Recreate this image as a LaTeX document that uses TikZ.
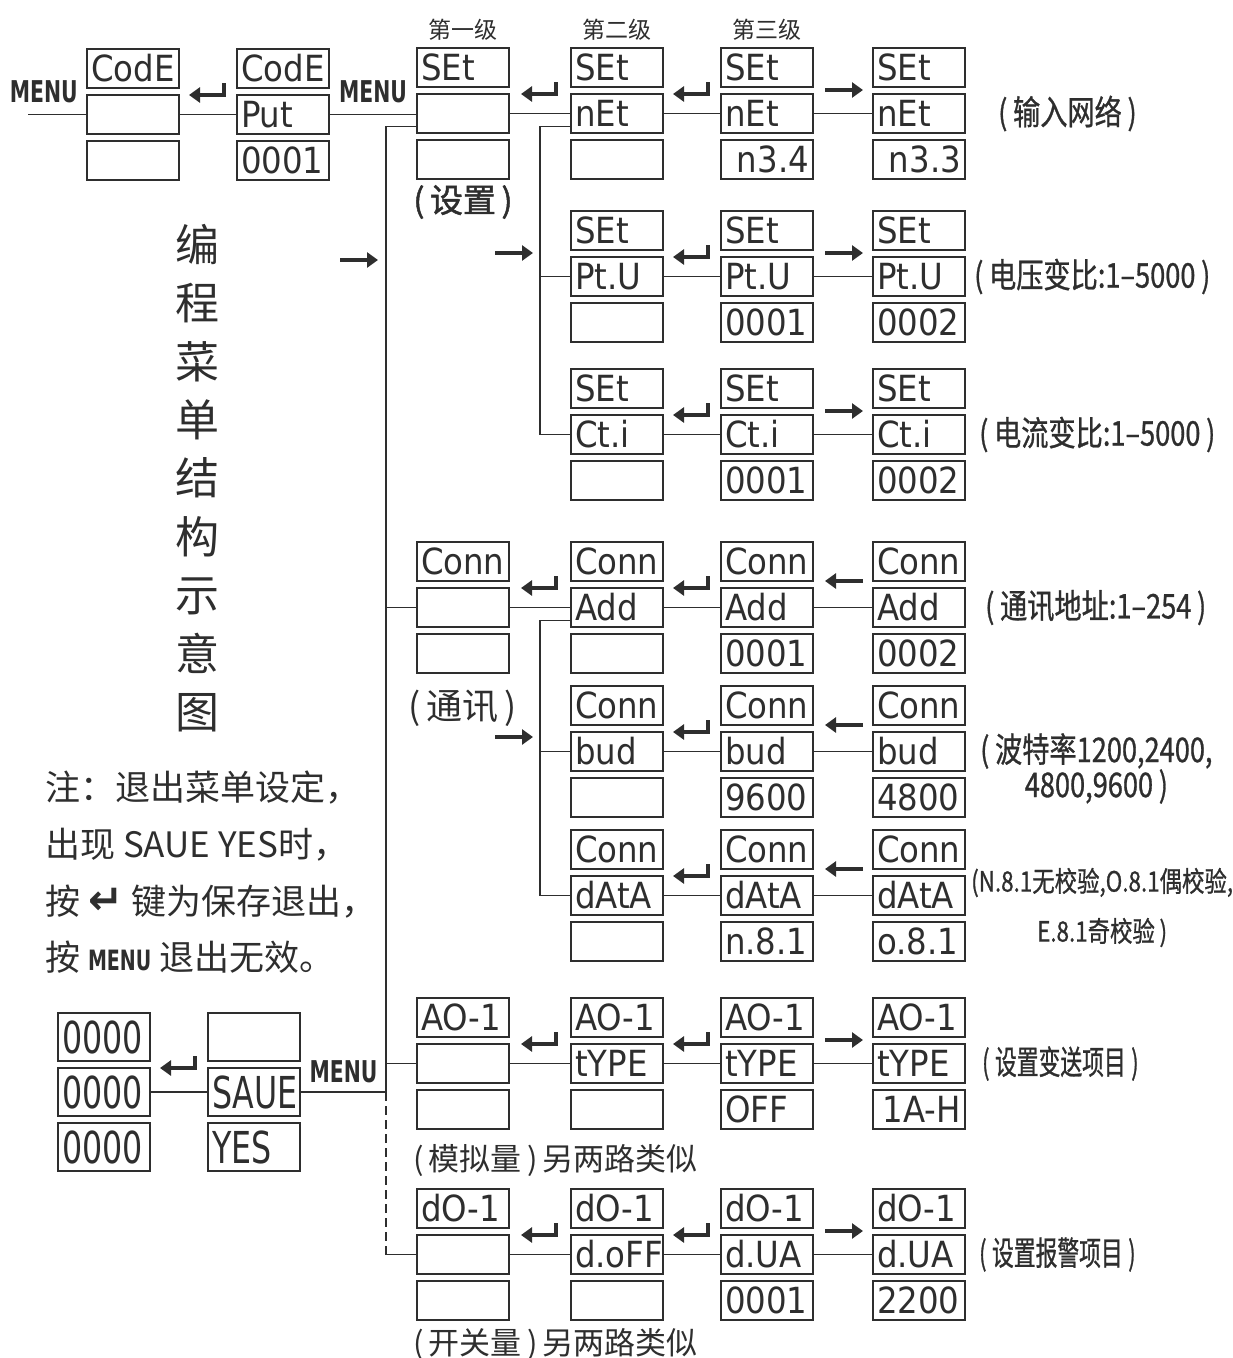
\documentclass[tikz,border=0pt]{standalone}
\usepackage{fontspec}
\usepackage{xcolor}
\usepackage{tikz}
\usetikzlibrary{arrows.meta, positioning, calc}
\newfontfamily\cjk{Noto Sans CJK SC}[AutoFakeBold=1.5]
\newfontfamily\cjknarrow{Noto Sans CJK SC}[FakeStretch=0.8, FakeBold=0.8]
\newfontfamily\cjkcond{Noto Sans CJK SC}[FakeStretch=0.66, FakeBold=0.8]
\newfontfamily\segfont{DejaVu Sans}[FakeStretch=0.9]
\newfontfamily\segtallfont{DejaVu Sans}[FakeStretch=0.72]
\newfontfamily\menufont{DejaVu Sans Bold}[FakeStretch=0.68]
\newfontfamily\symfont{DejaVu Sans Bold}
\definecolor{ink}{HTML}{2E2E2E}

\begin{document}
\begin{tikzpicture}[
  x=1pt, y=-1pt,
  font=\cjk,
  seg/.style={draw=ink, line width=2pt, minimum width=92pt, minimum height=39pt,
              inner xsep=4pt, inner ysep=0pt, text width=84pt, align=left,
              text height=26pt, text depth=0pt, text=ink,
              font=\segfont\fontsize{36}{36}\selectfont},
  segtall/.style={seg, minimum height=48pt, text height=32pt,
                  font=\segtallfont\fontsize{44}{44}\selectfont},
  link/.style={draw=ink, line width=1.8pt},
  ret/.style={draw=ink, line width=4.5pt, -{Triangle[length=11pt,width=15pt]}},
  menu/.style={text=ink, inner sep=0pt, font=\menufont\fontsize{30}{30}\selectfont},
  lvl/.style={text=ink, inner sep=0pt, font=\cjk\fontsize{23}{24}\selectfont},
  lbl/.style={text=ink, inner sep=0pt, align=center, font=\cjknarrow\fontsize{34}{35}\selectfont},
  grp/.style={text=ink, inner sep=0pt, font=\cjk\fontsize{31}{32}\selectfont},
]
\useasboundingbox (0,0) rectangle (1233,1358);

% Displays: three boxes per meter
\foreach \nm/\x/\y/\f/\rA/\rB/\rC in {
  codeA/86/48/seg/CodE/{}/{},
  codeB/236/48/seg/CodE/Put/0001,
  set/416/47/seg/SEt/{}/{},
  net2/570/47/seg/SEt/nEt/{},
  net3/720/47/seg/SEt/nEt/\hspace*{\fill}n3.4,
  net4/872/47/seg/SEt/nEt/\hspace*{\fill}n3.3,
  pt2/570/210/seg/SEt/Pt.U/{},
  pt3/720/210/seg/SEt/Pt.U/0001,
  pt4/872/210/seg/SEt/Pt.U/0002,
  ct2/570/368/seg/SEt/Ct.i/{},
  ct3/720/368/seg/SEt/Ct.i/0001,
  ct4/872/368/seg/SEt/Ct.i/0002,
  comm/416/541/seg/Conn/{}/{},
  add2/570/541/seg/Conn/Add/{},
  add3/720/541/seg/Conn/Add/0001,
  add4/872/541/seg/Conn/Add/0002,
  bud2/570/685/seg/Conn/bud/{},
  bud3/720/685/seg/Conn/bud/9600,
  bud4/872/685/seg/Conn/bud/4800,
  dat2/570/829/seg/Conn/dAtA/{},
  dat3/720/829/seg/Conn/dAtA/n.8.1,
  dat4/872/829/seg/Conn/dAtA/o.8.1,
  ao/416/997/seg/AO-1/{}/{},
  ao2/570/997/seg/AO-1/tYPE/{},
  ao3/720/997/seg/AO-1/tYPE/OFF,
  ao4/872/997/seg/AO-1/tYPE/\hspace*{\fill}1A-H,
  do/416/1188/seg/dO-1/{}/{},
  do2/570/1188/seg/dO-1/d.oFF/{},
  do3/720/1188/seg/dO-1/d.UA/0001,
  do4/872/1188/seg/dO-1/d.UA/2200,
  zero/57/1012/segtall/0000/0000/0000,
  save/207/1012/segtall/{}/SAUE/YES} {
  \node[\f, anchor=north west] (\nm-t) at (\x,\y) {\rA};
  \node[\f, below=5pt of \nm-t] (\nm-m) {\rB};
  \node[\f, below=5pt of \nm-m] (\nm-b) {\rC};
}

% Lines between middle boxes
\foreach \l/\r in {codeA/codeB, codeB/set, set/net2, net2/net3, net3/net4,
                   pt2/pt3, pt3/pt4, ct2/ct3, ct3/ct4, comm/add2, add2/add3, add3/add4,
                   bud2/bud3, bud3/bud4, dat2/dat3, dat3/dat4, ao/ao2, ao2/ao3, ao3/ao4,
                   do/do2, do2/do3, do3/do4, zero/save} {
  \draw[link] (\l-m.east) -- (\l-m.east -| \r-m.west);
}
\coordinate (menuin) at ([xshift=-58pt]codeA-m.west);
\draw[link] (menuin) -- (codeA-m.west);

% Main bus and sub buses
\coordinate (bus) at ([xshift=-30pt]set-m.west);
\coordinate (sub) at ([xshift=-30pt]net2-m.west);
\draw[link] ([yshift=-13pt]set-m.west) -| (bus |- save-m.east) -- (save-m.east);
\draw[link] (comm-m.west) -- (comm-m.west -| bus);
\draw[link] (ao-m.west) -- (ao-m.west -| bus);
\draw[link, dash pattern=on 9pt off 5pt] (bus |- save-m.east) -- (bus |- do-m.west);
\draw[link] (bus |- do-m.west) -- (do-m.west);
\draw[link] ([yshift=-13pt]net2-m.west) -| (sub |- ct2-m.west) -- (ct2-m.west);
\draw[link] (pt2-m.west) -- (pt2-m.west -| sub);
\draw[link] ([yshift=-13pt]add2-m.west) -| (sub |- dat2-m.west) -- (dat2-m.west);
\draw[link] (bud2-m.west) -- (bud2-m.west -| sub);

% Key arrows between meters
\foreach \l/\r in {codeA/codeB, set/net2, net2/net3, pt2/pt3, ct2/ct3, comm/add2, add2/add3,
                   bud2/bud3, dat2/dat3, ao/ao2, ao2/ao3, do/do2, do2/do3, zero/save} {
  \draw[ret] ($(\l-t.south east)!.5!(\r-t.south west)+(16,-6)$) -- ++(0,12) -- ++(-35,0);
}
\foreach \l/\r in {net3/net4, pt3/pt4, ct3/ct4, ao3/ao4, do3/do4} {
  \draw[ret] ($(\l-t.south east)!.5!(\r-t.south west)+(-18,2)$) -- ++(38,0);
}
\foreach \l/\r in {add3/add4, bud3/bud4, dat3/dat4} {
  \draw[ret] ($(\l-t.south east)!.5!(\r-t.south west)+(20,-1)$) -- ++(-38,0);
}
\coordinate (go1) at (340,260);
\coordinate (go2) at (495,253);
\coordinate (go3) at (495,737);
\foreach \g in {go1, go2, go3} {
  \draw[ret] (\g) -- ++(38,0);
}

% MENU keys
\node[menu, above left=11pt and 8pt of codeA-m.west] (menu1) {MENU};
\node[menu, above=11pt] (menu2) at ($(codeB-m.east)!.5!(set-m.west)$) {MENU};
\node[menu, above=9pt] (menu3) at ($(save-m.east)!.5!(bus |- save-m.east)$) {MENU};

% Level headings and group names
\node[lvl, above=6pt of set-t] (lv1) {第一级};
\node[lvl, above=6pt of net2-t] (lv2) {第二级};
\node[lvl, above=6pt of net3-t] (lv3) {第三级};
\node[grp, font=\cjk\bfseries\fontsize{33}{34}\selectfont, below=5pt of set-b] (setlbl) {(\,设置\,)};
\node[grp, font=\cjk\fontsize{36}{38}\selectfont, below=16pt of comm-b] (commlbl) {(\,通讯\,)};
\node[grp, below right=14pt and -3pt of ao-b.south west] (aolbl) {(\,模拟量\,)\,另两路类似};
\node[grp, below right=7pt and -3pt of do-b.south west] (dolbl) {(\,开关量\,)\,另两路类似};

% Notes on the right
\node[lbl, right=32pt of net4-m] (netlbl) {(\,输入网络\,)};
\node[lbl, right=8pt of pt4-m] (ptlbl) {(\,电压变比:1–5000\,)};
\node[lbl, right=13pt of ct4-m] (ctlbl) {(\,电流变比:1–5000\,)};
\node[lbl, right=19pt of add4-m] (addlbl) {(\,通讯地址:1–254\,)};
\node[lbl, right=14pt of bud4-m, yshift=-17pt] (budlbl) {(\,波特率1200,2400,\\4800,9600\,)};
\node[lbl, right=5pt of dat4-m, yshift=-12pt, font=\cjknarrow\fontsize{28}{36}\selectfont]
  (datlbl) {(N.8.1无校验,O.8.1偶校验,\\[14pt]E.8.1奇校验\,)};
\node[lbl, right=16pt of ao4-m, font=\cjkcond\fontsize{33}{35}\selectfont] (aolbl2) {(\,设置变送项目\,)};
\node[lbl, right=13pt of do4-m, font=\cjkcond\fontsize{33}{35}\selectfont] (dolbl2) {(\,设置报警项目\,)};

% Title and remark
\node[text=ink, inner sep=0pt, align=center, font=\cjk\fontsize{44}{58.4}\selectfont]
  (title) at (197,478) {编\\程\\菜\\单\\结\\构\\示\\意\\图};
\node[text=ink, inner sep=0pt, align=left, anchor=north west, font=\cjk\fontsize{35}{56.7}\selectfont]
  (remark) at (45,771) {注：退出菜单设定，\\出现 SAUE YES时，\\按 {\symfont\fontsize{42}{42}\selectfont ↵} 键为保存退出，\\按 {\menufont\fontsize{28}{28}\selectfont MENU} 退出无效。};
\end{tikzpicture}
\end{document}
